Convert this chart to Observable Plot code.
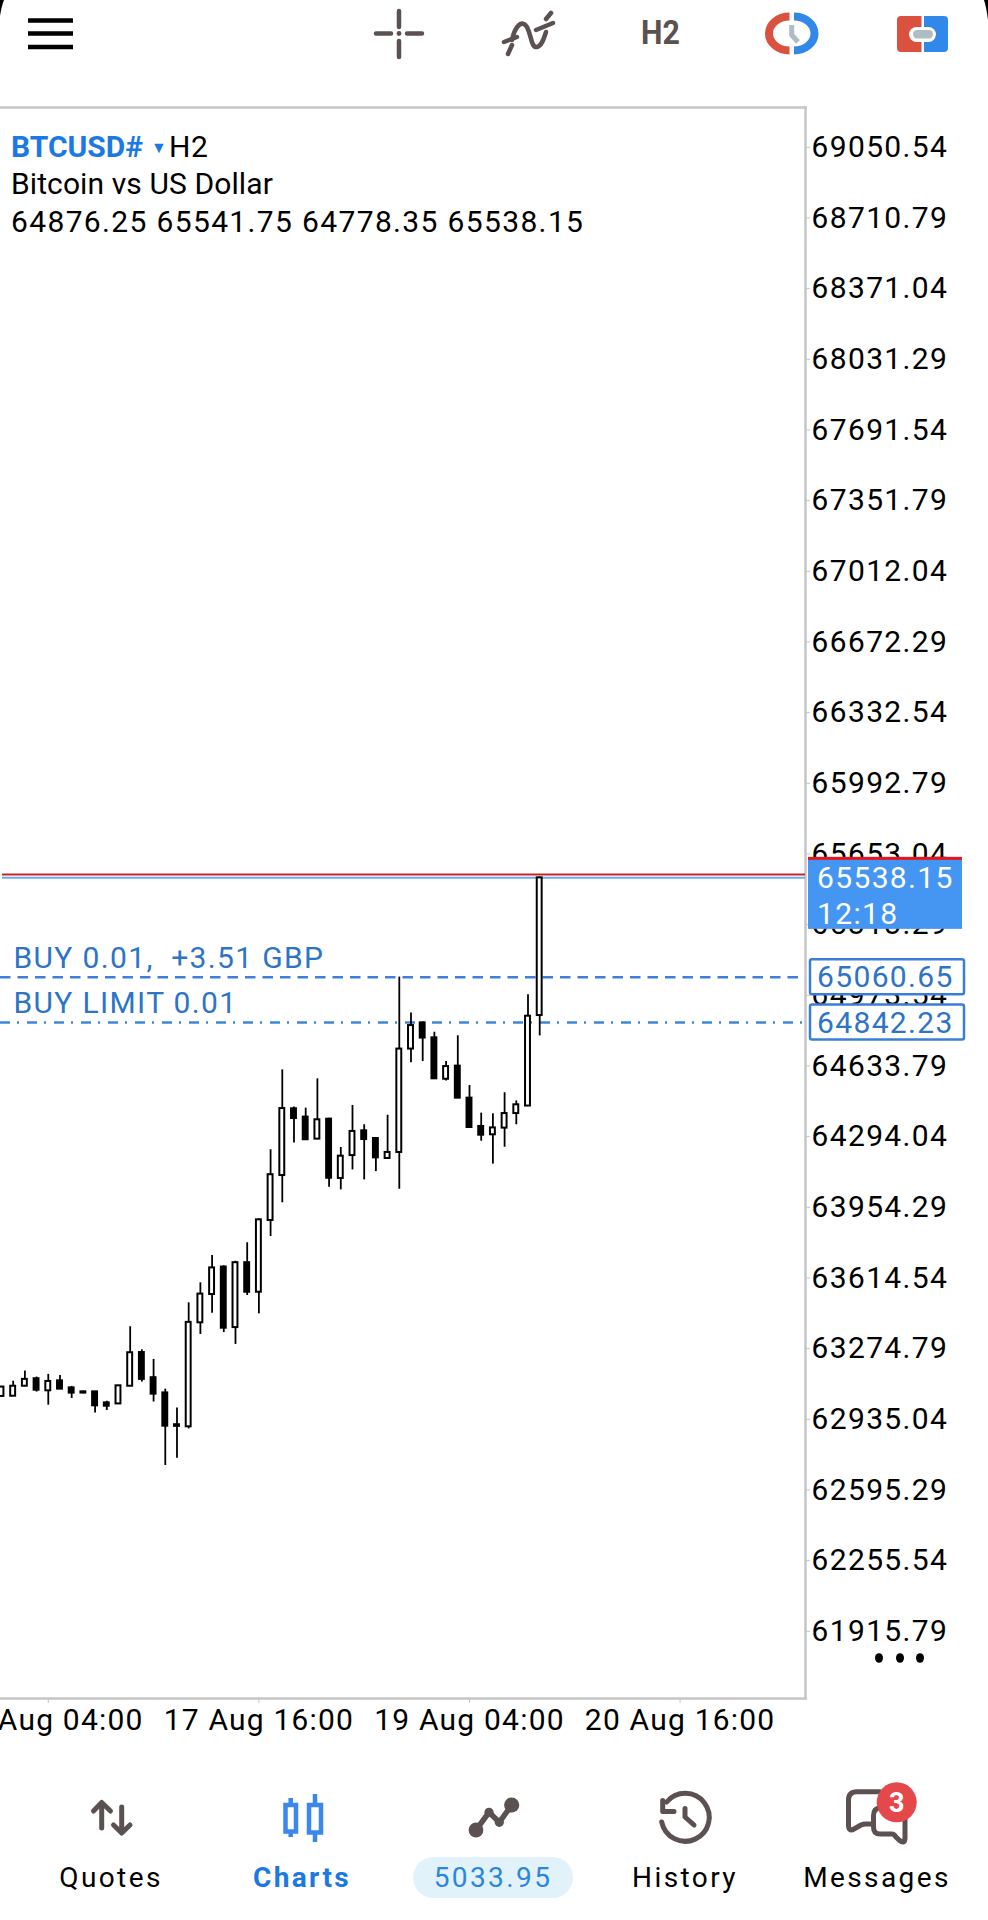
<!DOCTYPE html>
<html>
<head>
<meta charset="utf-8">
<script src="https://cdn.jsdelivr.net/npm/d3@7"></script>
<script src="https://cdn.jsdelivr.net/npm/@observablehq/plot@0.6"></script>
<style>
  html, body { margin: 0; padding: 0; background: #fff; width: 988px; height: 1920px; overflow: hidden; }
  body { position: relative; font-family: Roboto, sans-serif; }
  #chart { position: absolute; left: 0; top: 0; }
  #chart svg { display: block; }
  #icons { position: absolute; left: 0; top: 0; pointer-events: none; }
  .t { position: absolute; font-size: 30px; letter-spacing: 1.2px; line-height: 36px; height: 36px; white-space: pre; color: #000; }
  .c { transform: translateX(-50%); font-size: 28px; letter-spacing: 2.4px; }
  .pill { position: absolute; left: 413px; top: 1857px; width: 160px; height: 41px; border-radius: 21px; background: #e2f2fb; }
</style>
</head>
<body>
<div id="chart"></div>
<svg id="icons" width="988" height="1920" viewBox="0 0 988 1920" fill="none">
  <!-- screen corners -->
  <path d="M0 0H4Q1.5 6 0 16Z M988 0H984Q986.5 8 988 20Z" fill="#000"/>
  <!-- hamburger -->
  <path d="M28 20.5H73M28 33.5H73M28 47H73" stroke="#000" stroke-width="4.5"/>
  <!-- crosshair -->
  <g stroke="#5a5150" stroke-width="4.5" stroke-linecap="round">
    <path d="M399 11V27M399 41V57M376 33.5H391M407 33.5H422"/>
  </g>
  <circle cx="399" cy="33.5" r="2.4" fill="#5a5150"/>
  <!-- indicators -->
  <g stroke="#5a5150" stroke-width="4.5" stroke-linecap="round">
    <path d="M512 40C515 26 522 19 527 27C532 37 531 48 537 47C542 46 544 38 546 32"/>
    <path d="M504 42L517 37M536 30L553 23M546 19L551 13M508 54L512 45"/>
  </g>
  <!-- period clock -->
  <path d="M789.5 16.5A20.5 17 0 0 0 789.5 50.5" stroke="#db5140" stroke-width="8"/>
  <path d="M794 16.5A20.5 17 0 0 1 794 50.5" stroke="#3288ea" stroke-width="8"/>
  <path d="M791.7 25V35L798 42" stroke="#aebcc5" stroke-width="5"/>
  <!-- trade -->
  <path d="M921.5 16H901A4 4 0 0 0 897 20V48A4 4 0 0 0 901 52H921.5Z" fill="#db5140"/>
  <path d="M924 16H944A4 4 0 0 1 948 20V48A4 4 0 0 1 944 52H924Z" fill="#3288ea"/>
  <rect x="909" y="27" width="27" height="15" rx="7.5" fill="#fff"/>
  <rect x="913" y="30" width="20" height="8.5" rx="4.2" fill="#aebcc5"/>
  <!-- more dots -->
  <ellipse cx="879" cy="1658" rx="4" ry="4.8" fill="#000"/>
  <ellipse cx="900" cy="1658" rx="4" ry="4.8" fill="#000"/>
  <ellipse cx="920" cy="1658" rx="4" ry="4.8" fill="#000"/>
  <!-- quotes -->
  <g stroke="#5a5150" stroke-width="5" stroke-linecap="round" stroke-linejoin="round">
    <path d="M101.7 1803V1828M93.5 1811L101.7 1802.5L110.5 1811"/>
    <path d="M121.7 1807V1832M113.5 1825L121.7 1833L130 1825"/>
  </g>
  <!-- charts -->
  <g stroke="#3b87ee" stroke-width="4.5">
    <path d="M290.7 1798V1804M290.7 1832V1837M315 1794V1804M315 1833V1842"/>
    <rect x="285.5" y="1805" width="10.5" height="26.5"/>
    <rect x="309" y="1805" width="12" height="27.5"/>
  </g>
  <!-- trade stats -->
  <path d="M476 1830L489 1812.3L499.3 1822.3L511.7 1805" stroke="#5a5150" stroke-width="5.5" stroke-linejoin="round"/>
  <circle cx="476" cy="1830" r="7.4" fill="#5a5150"/>
  <circle cx="489" cy="1812.3" r="4.6" fill="#5a5150"/>
  <circle cx="499.3" cy="1822.3" r="4.6" fill="#5a5150"/>
  <circle cx="511.7" cy="1805" r="7.6" fill="#5a5150"/>
  <!-- history -->
  <g stroke="#5a5150" stroke-width="5" stroke-linecap="round" stroke-linejoin="round">
    <path d="M661.7 1822A24 24 0 1 0 666.7 1802"/>
    <path d="M662.7 1800.5V1811.5H674"/>
    <path d="M685 1808.5V1817L694 1825"/>
  </g>
  <!-- messages -->
  <g stroke="#5a5150" stroke-width="5" stroke-linejoin="round" stroke-linecap="round">
    <path d="M880 1791.7H857Q848.5 1791.7 848.5 1800V1825Q848.5 1832 854 1829L861 1825Q863 1824 866 1824H872"/>
    <path d="M880 1808Q873.5 1808 873.5 1816V1827Q873.5 1834 880 1834H892Q894 1834 896 1837L899 1840Q905 1845 905 1838V1815"/>
  </g>
  <circle cx="896.7" cy="1802.3" r="20" fill="#e5484a"/>
  <text x="896.7" y="1812" text-anchor="middle" font-family="Roboto" font-weight="700" font-size="27" fill="#fff">3</text>
</svg>

<div class="t" style="left:11px;top:129px;"><b style="color:#1b79e4;letter-spacing:0;">BTCUSD#</b></div>
<div class="t" style="left:151px;top:130px;font-size:16px;color:#1b79e4;">▼</div>
<div class="t" style="left:169px;top:129px;letter-spacing:.5px;" id="tf">H2</div>
<div class="t" style="left:11px;top:166px;letter-spacing:.1px;" id="sym"></div>
<div class="t" style="left:11px;top:204px;letter-spacing:1.35px;" id="ohlc"></div>
<div class="t" style="left:641px;top:15px;font-weight:700;color:#5a5150;font-size:33px;letter-spacing:0;transform:scaleX(.92);transform-origin:left center;">H2</div>

<div class="pill"></div>
<div id="nav"></div>

<script>
// ----- data -----
const firstBar = Date.UTC(2024, 7, 15, 20);   // 15 Aug 20:00, two-hour bars
const barHours = 2;

const opens  = [63045,63046,63094,63130,63072,63120,63086,63067,63067,63014,63009,63094,63256,63135,63062,62909,62899,63399,63535,63667,63376,63688,63546,63891,64107,64428,64388,64282,64378,64093,64203,64322,64285,64189,64218,64715,64841,64769,64570,64633,64479,64343,64303,64335,64405,64441,64876.25];
const highs  = [63093,63118,63167,63138,63151,63146,63093,63070,63067,63022,63098,63380,63269,63223,63080,62989,63495,63591,63723,63673,63695,63784,63899,64231,64615,64436,64431,64572,64383,64242,64444,64351,64287,64397,65061,64889,64844,64796,64655,64779,64540,64407,64404,64505,64466,64976,65541.75];
const lows   = [63042,63045,63093,63066,63003,63078,63035,63058,62965,62977,63008,63093,63114,63018,62713,62748,62889,63343,63445,63352,63295,63530,63442,63814,63976,64263,64276,64280,64051,64038,64134,64086,64126,64187,64041,64649,64655,64570,64562,64477,64336,64272,64162,64243,64351,64439,64778.35];
const closes = [63090,63094,63127,63075,63117,63080,63061,63061,63000,62998,63096,63255,63127,63056,62902,62901,63401,63537,63663,63373,63688,63546,63894,64111,64429,64381,64279,64375,64094,64200,64319,64280,64192,64218,64715,64828,64768,64572,64631,64479,64338,64301,64336,64405,64447,64873,65538.15];

const priceTicks = [69050.54,68710.79,68371.04,68031.29,67691.54,67351.79,67012.04,66672.29,66332.54,65992.79,65653.04,65313.29,64973.54,64633.79,64294.04,63954.29,63614.54,63274.79,62935.04,62595.29,62255.54,61915.79];
const timeTicks = [Date.UTC(2024,7,16,4), Date.UTC(2024,7,17,16), Date.UTC(2024,7,19,4), Date.UTC(2024,7,20,16)].map(d => new Date(d));

const askPrice = 65554;
const bidPrice = 65538.15;
const buyPrice = 65060.65;
const limitPrice = 64842.23;
const countdown = "12:18";
const buyLabel = "BUY 0.01, \u00a0+3.51 GBP";
const limitLabel = "BUY LIMIT 0.01";

const symbolName = "Bitcoin vs US Dollar";
const ohlcLine = "64876.25 65541.75 64778.35 65538.15";
const navLabels = ["Quotes", "Charts", "5033.95", "History", "Messages"];
const navCenters = [111, 302, 493, 685, 877];
const navColors = ["#000", "#1b79e4", "#2a86e0", "#000", "#000"];

// ----- build -----
const hour = 3600e3;
const candles = opens.map((o, i) => ({
  t: new Date(firstBar + i * barHours * hour),
  t1: new Date(firstBar + i * barHours * hour - 0.42 * hour),
  t2: new Date(firstBar + i * barHours * hour + 0.42 * hour),
  o, h: highs[i], l: lows[i], c: closes[i], up: closes[i] >= o
}));
const fmtTime = d3.utcFormat("%d %b %H:%M");

// price tags in the right-hand margin, positioned from the y scale
function priceTags(index, {y}) {
  const g = d3.create("svg:g").attr("font-family", "Roboto").attr("font-size", 30).attr("text-anchor", "start");
  const by = y(bidPrice);
  g.append("rect").attr("x", 808).attr("width", 154).attr("y", by - 18.5).attr("height", 70).attr("fill", "#4596f3");
  g.append("rect").attr("x", 808).attr("width", 154).attr("y", by - 20.5).attr("height", 3).attr("fill", "#e8141c");
  g.append("text").attr("x", 817).attr("y", by + 10.5).attr("fill", "#fff").text(bidPrice.toFixed(2));
  g.append("text").attr("x", 817).attr("y", by + 46.5).attr("fill", "#fff").text(countdown);
  for (const p of [buyPrice, limitPrice]) {
    const py = y(p);
    g.append("rect").attr("x", 810).attr("width", 154).attr("y", py - 17.5).attr("height", 35).attr("rx", 2)
      .attr("fill", "#fff").attr("stroke", "#3a7fd6").attr("stroke-width", 2.5);
    g.append("text").attr("x", 817).attr("y", py + 10.5).attr("fill", "#2d74c8").text(p.toFixed(2));
  }
  return g.node();
}

const chart = Plot.plot({
  width: 988,
  height: 1920,
  marginLeft: 0,
  marginRight: 183,
  marginTop: 107,
  marginBottom: 222,
  style: {background: "#fff", fontFamily: "Roboto", letterSpacing: "1.35px", overflow: "visible"},
  x: {type: "utc", domain: [new Date(Date.UTC(2024,7,15,19,50)), new Date(Date.UTC(2024,7,21,13,26))], label: null},
  y: {domain: [61592.7, 69241.9], label: null},
  marks: [
    Plot.axisY({anchor: "right", ticks: priceTicks, tickFormat: d => d.toFixed(2), tickSize: 4, tickPadding: 2,
      fontSize: 30, stroke: "#c4c4c4", fill: "#000", label: null, textStroke: "none"}),
    Plot.axisX({anchor: "bottom", ticks: timeTicks, tickFormat: fmtTime, tickSize: 5, tickPadding: 5,
      fontSize: 30, stroke: "#c4c4c4", fill: "#000", label: null}),
    Plot.frame({anchor: "top", stroke: "#c6c6c6", strokeWidth: 2.5}),
    Plot.frame({anchor: "right", stroke: "#c6c6c6", strokeWidth: 2.5}),
    Plot.frame({anchor: "bottom", stroke: "#c6c6c6", strokeWidth: 2.5}),
    Plot.ruleY([askPrice], {stroke: "#c4262e", strokeWidth: 2, insetLeft: 2}),
    Plot.ruleY([bidPrice], {stroke: "#6fa9ea", strokeWidth: 2, insetLeft: 2}),
    Plot.ruleY([buyPrice], {stroke: "#3f7fd8", strokeWidth: 2.6, strokeDasharray: "10.5,7"}),
    Plot.ruleY([limitPrice], {stroke: "#3f86d8", strokeWidth: 2.5, strokeDasharray: "10,7,2,8"}),
    Plot.text([buyLabel], {y: [buyPrice], frameAnchor: "left", dx: 13, dy: -19, textAnchor: "start", fontSize: 30, fill: "#2d74c8", text: d => d}),
    Plot.text([limitLabel], {y: [limitPrice], frameAnchor: "left", dx: 13, dy: -19, textAnchor: "start", fontSize: 30, fill: "#2d74c8", text: d => d}),
    Plot.ruleX(candles, {x: "t", y1: "l", y2: "h", stroke: "#000", strokeWidth: 1.8}),
    Plot.rect(candles, {x1: "t1", x2: "t2", y1: "o", y2: "c", fill: d => d.up ? "#fff" : "#000", stroke: "#000", strokeWidth: 2}),
    priceTags
  ]
});
document.getElementById("chart").append(chart);
d3.select(chart).selectAll('[aria-label="x-axis tick label"]').style("letter-spacing", "1.2px");

document.getElementById("sym").textContent = symbolName;
document.getElementById("ohlc").textContent = ohlcLine;
const nav = document.getElementById("nav");
navLabels.forEach((label, i) => {
  const el = document.createElement("div");
  el.className = "t c";
  el.textContent = label;
  el.style.left = navCenters[i] + "px";
  el.style.top = "1860px";
  el.style.color = navColors[i];
  if (i === 1) el.style.fontWeight = "700";
  nav.append(el);
});
</script>
</body>
</html>
